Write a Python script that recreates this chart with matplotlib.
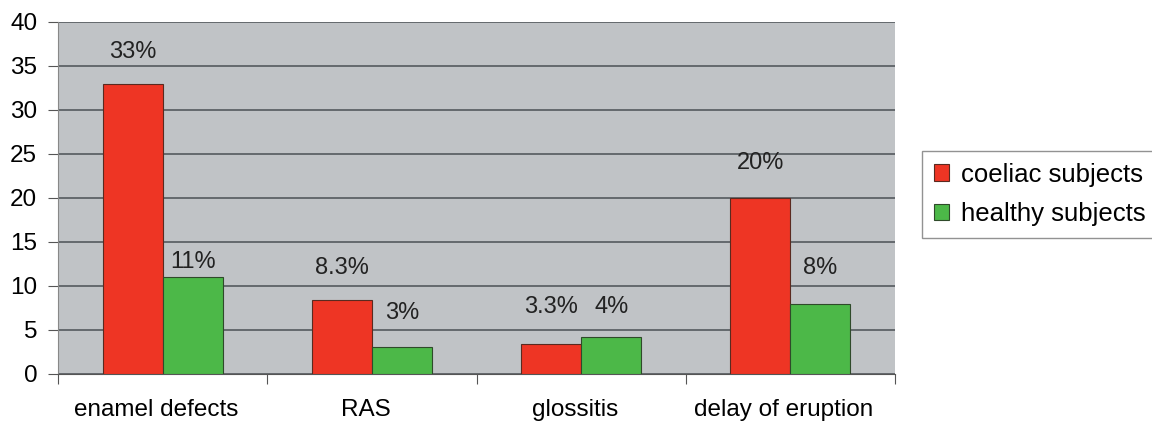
import matplotlib
matplotlib.use("Agg")
import matplotlib.pyplot as plt
import numpy as np

categories = ["enamel defects", "RAS", "glossitis", "delay of eruption"]
coeliac = [33, 8.4, 3.4, 20]
healthy = [11, 3.1, 4.2, 8]
coeliac_labels = ["33%", "8.3%", "3.3%", "20%"]
healthy_labels = ["11%", "3%", "4%", "8%"]
# where the percentage labels sit (data units, label centre)
coeliac_label_y = [36.6, 12.0, 7.6, 24.0]
healthy_label_y = [12.7, 6.9, 7.6, 12.0]

plt.rcParams['font.family'] = ['Liberation Sans', 'DejaVu Sans']

fig = plt.figure(figsize=(11.52, 4.25), dpi=100)
ax = fig.add_axes([58 / 1152, 1 - 374 / 425, 837 / 1152, 352 / 425])

x = np.arange(len(categories))
w = 0.287
ax.set_facecolor("#c0c3c6")
ax.bar(x - w / 2, coeliac, w, color="#ee3524", edgecolor="#5a2a20", linewidth=0.8,
       label="coeliac subjects", zorder=3)
ax.bar(x + w / 2, healthy, w, color="#4cb848", edgecolor="#2f4a2a", linewidth=0.8,
       label="healthy subjects", zorder=3)

for xi, y, t in zip(x, coeliac_label_y, coeliac_labels):
    ax.text(xi - w / 2, y, t, ha="center", va="center", fontsize=17, color="#222222")
for xi, y, t in zip(x, healthy_label_y, healthy_labels):
    ax.text(xi + w / 2, y, t, ha="center", va="center", fontsize=17, color="#222222")

ax.set_ylim(0, 40)
ax.set_xlim(-0.5, len(categories) - 0.5)
ax.set_yticks(range(0, 41, 5))
ax.yaxis.grid(True, color="#555a5e", linewidth=1.2, zorder=1)
ax.set_axisbelow(True)

ax.set_xticks(np.arange(-0.5, len(categories), 1.0), minor=False)
ax.set_xticklabels([""] * (len(categories) + 1))
ax.set_xticks(x - 0.03, minor=True)
ax.set_xticklabels(categories, minor=True)
ax.tick_params(axis="x", which="minor", length=0, pad=18, labelsize=17.5)
ax.tick_params(axis="x", which="major", length=7, color="#555555")
ax.tick_params(axis="y", length=7, color="#555555", labelsize=17.5, pad=8)

for side in ["top", "right"]:
    ax.spines[side].set_visible(False)
ax.spines["left"].set_color("#888888")
ax.spines["bottom"].set_color("#555555")

leg = fig.legend(loc="upper left", bbox_to_anchor=(922 / 1152, 1 - 151 / 425),
                 fontsize=18.5, frameon=True, fancybox=False, edgecolor="#777777",
                 handlelength=0.6, handleheight=0.6, handletextpad=0.45,
                 labelspacing=0.6, borderpad=0.45, borderaxespad=0)
leg.get_frame().set_linewidth(1.0)

fig.savefig("out.png", dpi=100)
